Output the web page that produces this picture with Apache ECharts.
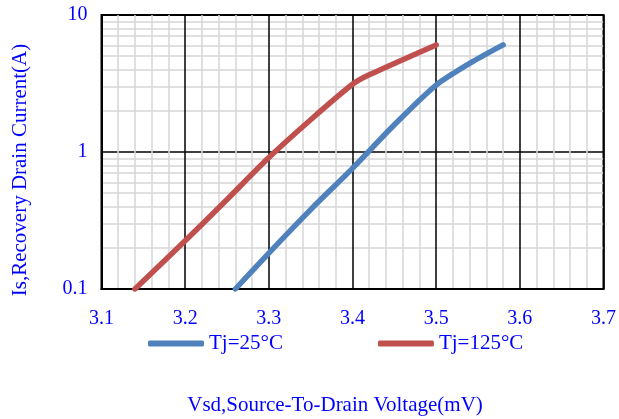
<!DOCTYPE html>
<html>
<head>
<meta charset="utf-8">
<script src="https://cdn.jsdelivr.net/npm/echarts@6/dist/echarts.min.js"></script>
<style>
  html, body { margin: 0; padding: 0; background: #fff; }
  #chart { width: 619px; height: 419px; }
</style>
</head>
<body>
<div id="chart"></div>
<script>
// Source-to-drain diode forward characteristic, two junction temperatures
const seriesNames = ['Tj=25°C', 'Tj=125°C'];

// Vsd (x) and Is (y) pairs for each curve
const vsd25  = [3.26, 3.30, 3.35, 3.40, 3.45, 3.50, 3.544, 3.58];
const is25   = [0.10, 0.183, 0.38, 0.76, 1.58, 3.08, 4.58, 6.05];
const vsd125 = [3.14, 3.20, 3.25, 3.30, 3.35, 3.40, 3.42, 3.50];
const is125  = [0.10, 0.225, 0.45, 0.91, 1.72, 3.12, 3.66, 6.05];

// Axis settings
const xMin = 3.1, xMax = 3.7, xStep = 0.1;
const yMin = 0.1, yMax = 10;

const xTitle = 'Vsd,Source-To-Drain Voltage(mV)';
const yTitle = 'Is,Recovery Drain Current(A)';

const colors = ['#4F81BD', '#C0504D'];
const FONT = '"Liberation Serif", "Times New Roman", serif';
const TEXT_BLUE = '#0000ff';

const pairs = (xs, ys) => xs.map((x, i) => [x, ys[i]]);

const chart = echarts.init(document.getElementById('chart'), null, { renderer: 'canvas' });

chart.setOption({
  animation: false,
  backgroundColor: '#ffffff',
  textStyle: { fontFamily: FONT },
  grid: {
    left: 101.5, right: 15, top: 15, bottom: 130,
    show: true, borderColor: '#000', borderWidth: 2, backgroundColor: '#fff'
  },
  xAxis: {
    type: 'value',
    min: xMin, max: xMax, interval: xStep,
    axisLine: { show: true, lineStyle: { color: '#000', width: 2 } },
    axisTick: { show: false },
    axisLabel: {
      color: TEXT_BLUE, fontFamily: FONT, fontSize: 20, margin: 20,
      formatter: v => v.toFixed(1)
    },
    splitLine: { show: true, lineStyle: { color: '#000', width: 1.5 } },
    minorTick: { show: false, splitNumber: 5 },
    minorSplitLine: { show: true, lineStyle: { color: '#d6d6d6', width: 1.5 } }
  },
  yAxis: {
    type: 'log', logBase: 10,
    min: yMin, max: yMax,
    axisLine: { show: true, lineStyle: { color: '#000', width: 2 } },
    axisTick: { show: false },
    axisLabel: {
      color: TEXT_BLUE, fontFamily: FONT, fontSize: 20, margin: 14,
      formatter: v => String(+v.toPrecision(3))
    },
    splitLine: { show: true, lineStyle: { color: '#000', width: 1.5 } },
    minorTick: { show: false, splitNumber: 9 },
    minorSplitLine: { show: true, lineStyle: { color: '#d6d6d6', width: 1.5 } }
  },
  legend: {
    left: 148, top: 333, padding: 0,
    itemWidth: 56, itemHeight: 6, itemGap: 95,
    icon: 'roundRect',
    textStyle: { color: TEXT_BLUE, fontFamily: FONT, fontSize: 21 },
    data: seriesNames
  },
  graphic: [
    {
      type: 'text', x: 335, y: 405,
      style: {
        text: xTitle, align: 'center', verticalAlign: 'middle',
        fill: TEXT_BLUE, font: '21px ' + FONT
      }
    },
    {
      type: 'text', x: 20, y: 170, rotation: Math.PI / 2,
      style: {
        text: yTitle, align: 'center', verticalAlign: 'middle',
        fill: TEXT_BLUE, font: '21px ' + FONT
      }
    }
  ],
  series: [
    {
      name: seriesNames[0], type: 'line', data: pairs(vsd25, is25),
      showSymbol: false, smooth: 0.25, color: colors[0],
      lineStyle: { width: 5.5, color: colors[0], cap: 'round' }, z: 3
    },
    {
      name: seriesNames[1], type: 'line', data: pairs(vsd125, is125),
      showSymbol: false, smooth: 0.25, color: colors[1],
      lineStyle: { width: 5.5, color: colors[1], cap: 'round' }, z: 3
    }
  ]
});
</script>
</body>
</html>
